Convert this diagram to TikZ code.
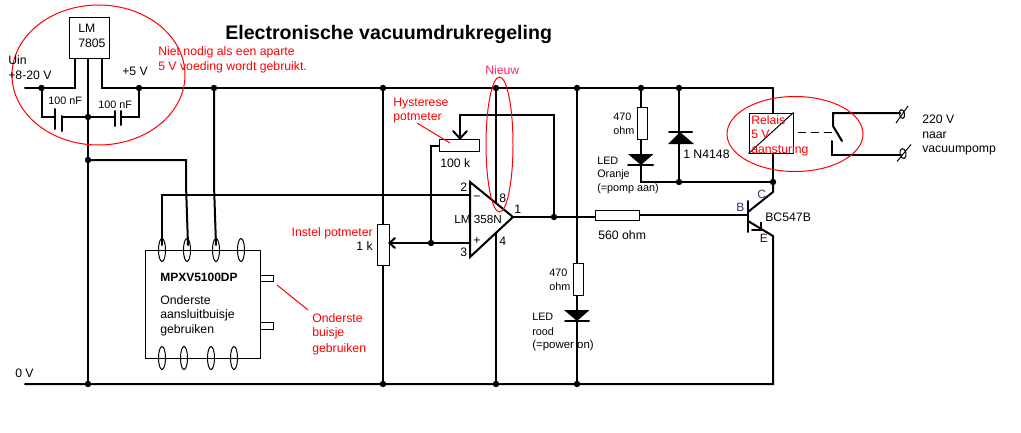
\documentclass[tikz,border=0pt]{standalone}
\usepackage{fontspec}
\usetikzlibrary{shapes.geometric}
\setmainfont{Liberation Sans}
\definecolor{lblred}{RGB}{255,0,0}
\definecolor{newred}{RGB}{255,40,90}
\definecolor{cbcol}{RGB}{40,60,110}
\definecolor{ecol}{RGB}{60,0,50}
\tikzset{
  wire/.style={line width=1.5pt,line cap=round,line join=miter},
  thin line/.style={line width=0.75pt,line join=miter},
  redline/.style={line width=0.75pt,draw=lblred},
  txt/.style={anchor=west,inner sep=0pt,font=\fontsize{9.2}{11}\selectfont,text=black},
  small/.style={txt,font=\fontsize{8.1}{10}\selectfont},
  redtxt/.style={txt,text=lblred},
  dot/.style={circle,fill=black,inner sep=0pt,minimum size=4.8pt},
  part/.style={draw,fill=white,line width=0.75pt,inner sep=0pt},
  pinell/.style={draw,line width=0.75pt,ellipse,inner sep=0pt},
}
\newcommand{\junction}[2]{\coordinate (#1) at (#2); \node[dot] at (#1) {};}
\begin{document}
\begin{tikzpicture}[x=0.75pt,y=-0.75pt]
\useasboundingbox (0,0) rectangle (1021,432);
% coordinates
\coordinate (vinL) at (25,88);
\coordinate (regIn) at (75,88);
\coordinate (regOut) at (102,88);
\coordinate (railR) at (773,88);
\coordinate (gndL) at (25,384);
\coordinate (gndR) at (773,384);
\junction{jIn}{41.5,88}
\junction{j5}{139,88}
\junction{jSens}{214,88}
\junction{jPot}{383,88}
\junction{jOp}{496,88}
\junction{jLedR}{577,88}
\junction{jLedO}{641,88}
\junction{jDio}{679,88}
\junction{jCap}{88,117}
\junction{jGndS}{88,160}
\junction{gA}{88,384}
\junction{gB}{383,384}
\junction{gC}{496,384}
\junction{gD}{577,384}
\junction{jPlus}{431,243}
\junction{jOut}{554,217}
\junction{jCol}{773,182}
\junction{jDioB}{679,182}
% rails
\draw[wire] (vinL)--(regIn)--(75,58);
\draw[wire] (102,58)--(regOut)--(railR);
\draw[wire] (gndL)--(gndR)--(773,236)--(748,221);
\draw[wire] (88,58)--(gA);
% caps
\draw[wire] (jIn)--(41.5,117)--(55,117);
\draw[wire] (62,117)--(jCap)--(115,117);
\draw[wire] (121,117)--(139,117)--(j5);
\draw[wire] (55,109)--(55,129);
\draw[wire] (62,116)--(62,131);
\draw[wire] (115,111)--(115,126);
\draw[wire] (121,111)--(121,125);
% regulator
\node[part,minimum width=30pt,minimum height=30.75pt] (reg) at (89,37.5) {};
% sensor wires
\draw[wire] (jGndS)--(186,160)--(186,185)--(188,245);
\draw[wire] (jSens)--(214,185)--(216,245);
\draw[wire] (162,245)--(162,195)--(470,195);
% sensor
\node[part,fill=none,minimum width=86.25pt,minimum height=81pt] (sens) at (202.5,304) {};
\foreach \n/\x in {a/162,b/187,c/216,d/241}
  \node[pinell,minimum width=5.25pt,minimum height=17.25pt] (top\n) at (\x,250) {};
\foreach \n/\x in {a/162,b/184,c/211,d/234}
  \node[pinell,minimum width=5.25pt,minimum height=17.25pt] (bot\n) at (\x,358) {};
\draw[thin line] (260,275) rectangle (273.5,281.5);
\draw[thin line] (260,322.5) rectangle (273.5,329.5);
% potmeters
\draw[wire] (jPot)--(383,224);
\draw[wire] (383,265)--(gB);
\node[part,minimum width=9pt,minimum height=30.75pt] (pot1) at (383,244.5) {};
\draw[wire] (pot1.east |- jPlus)--(470,243);
\draw[wire] (395,238)--(389.5,243)--(395,248);
\draw[wire] (jPlus)--(431,146)--(439,146);
\node[part,minimum width=30pt,minimum height=9pt] (pot2) at (459,145) {};
\draw[wire] (460,139)--(460,115)--(554,115)--(jOut);
\draw[wire] (453,131)--(460,138.5)--(467,131);
% op amp
\draw[wire] (jOp)--(496,203);
\draw[wire] (496,233)--(gC);
\draw[wire] (513,217)--(595,217);
\draw[wire,line join=miter] (470,182)--(470,257)--(513,217)--cycle;
% led red
\draw[wire] (jLedR)--(577,263);
\draw[wire] (577,295)--(gD);
\node[part,minimum width=7.5pt,minimum height=24pt] (r3) at (578,279) {};
\fill (564,310)--(589.5,310)--(577,321)--cycle;
\draw[wire] (565,321)--(589,321);
% led orange
\draw[wire] (jLedO)--(641,107);
\draw[wire] (641,139)--(641,182)--(jCol);
\node[part,minimum width=7.5pt,minimum height=24pt] (r2) at (642,123) {};
\fill (628,154)--(653.5,154)--(641,165)--cycle;
\draw[wire] (628,165)--(653,165);
% diode
\draw[wire] (jDio)--(jDioB);
\fill (680,132)--(694,144)--(668,144)--cycle;
\draw[wire] (669,132)--(692,132);
% relay
\draw[wire] (railR)--(773,113);
\draw[wire] (773,153)--(jCol);
\node[part,minimum width=33pt,minimum height=30pt] (rel) at (771,133) {};
\draw[thin line] (rel.south west)--(rel.north east);
% base + transistor
\draw[wire] (jCol)--(773,192)--(748,212);
\draw[wire] (639,215)--(748,215);
\node[part,minimum width=33pt,minimum height=7.5pt] (r4) at (617,215) {};
\draw[wire] (748,201)--(748,232);
\draw[wire] (752,229.5)--(761,229.5)--(761,222.5);
% contacts
\draw[wire] (900,113)--(833,113)--(833,126)--(842,141);
\draw[wire] (901,155)--(832,155)--(832,141);
\draw[line width=0.75pt,dash pattern=on 6pt off 3.6pt] (798,132)--(834,132);
\node[pinell,minimum width=3.75pt,minimum height=6.75pt,rotate=10] (t1) at (902,114) {};
\node[pinell,minimum width=4.5pt,minimum height=7.5pt,rotate=10] (t2) at (903,153.5) {};
\draw[thin line] (t1)+(-6,9)--+(6,-8);
\draw[thin line] (t2)+(-6,8)--+(8,-9);
% red
\draw[redline] (98.5,75) ellipse [x radius=86.5,y radius=70];
\draw[redline] (499.5,144.5) ellipse [x radius=13.5,y radius=67.5];
\draw[redline] (795,134) ellipse [x radius=68,y radius=37.5];
\draw[redline] (417,123)--(450,143);
\draw[redline] (277,285)--(308,310);
% title
\node[txt,font=\fontsize{14.7}{16}\bfseries\selectfont] (title) at (225,34) {Electronische vacuumdrukregeling};
% texts
\node[txt] (t01) at (78,28.5) {LM};
\node[txt] (t02) at (78,43) {7805};
\node[txt] (t03) at (8,60) {Uin};
\node[txt] (t04) at (8,75) {+8-20 V};
\node[txt] (t05) at (122,71) {+5 V};
\node[small] (t06) at (48,101) {100 nF};
\node[small] (t07) at (98,105) {100 nF};
\node[redtxt] (t08) at (158,52.5) {Niet nodig als een aparte};
\node[redtxt] (t09) at (158,67.5) {5 V voeding wordt gebruikt.};
\node[txt,text=newred] (t10) at (485,70) {Nieuw};
\node[redtxt] (t11) at (393,104) {Hysterese};
\node[redtxt] (t12) at (393,118) {potmeter};
\node[txt] (t13) at (440,163) {100 k};
\node[redtxt,anchor=east] (t14) at (373,233) {Instel potmeter};
\node[txt,anchor=east] (t15) at (373,246) {1 k};
\node[txt] (t16) at (460,187) {2};
\node[txt] (t17) at (460,252) {3};
\node[txt] (t18) at (473,198) {−};
\node[txt] (t19) at (473,241) {+};
\node[txt,font=\fontsize{8.8}{11}\selectfont] (t20) at (454,219) {LM 358N};
\node[txt] (t21) at (499,198) {8};
\node[txt] (t22) at (514,209) {1};
\node[txt] (t23) at (499,241) {4};
\node[small] (t24) at (613,117) {470};
\node[small] (t25) at (613,131) {ohm};
\node[small] (t26) at (597,161) {LED};
\node[small] (t27) at (597,175) {Oranje};
\node[small] (t28) at (597,189) {(=pomp aan)};
\node[txt] (t29) at (683,154) {1 N4148};
\node[txt] (t30) at (765,217) {BC547B};
\node[txt] (t31) at (598,235) {560 ohm};
\node[txt,font=\fontsize{9}{11}\selectfont,text=cbcol] (t32) at (757,194) {C};
\node[txt,font=\fontsize{9}{11}\selectfont,text=cbcol] (t33) at (736,207) {B};
\node[txt,font=\fontsize{9}{11}\selectfont,text=ecol] (t34) at (759.5,238) {E};
\node[small] (t35) at (549,273) {470};
\node[small] (t36) at (549,287) {ohm};
\node[small] (t37) at (532,317) {LED};
\node[small] (t38) at (532,332) {rood};
\node[small,font=\fontsize{8.6}{10}\selectfont] (t39) at (532,346) {(=power on)};
\node[redtxt] (t40) at (751,120) {Relais};
\node[redtxt] (t41) at (751,134.5) {5 V};
\node[redtxt] (t42) at (751,150) {aansturing};
\node[txt] (t43) at (922,119.5) {220 V};
\node[txt] (t44) at (922,135) {naar};
\node[txt] (t45) at (922,150) {vacuumpomp};
\node[txt] (t46) at (15,373) {0 V};
\node[txt,font=\fontsize{9}{11}\bfseries\selectfont] (t47) at (160,277) {MPXV5100DP};
\node[txt] (t48) at (160,300) {Onderste};
\node[txt] (t49) at (160,315) {aansluitbuisje};
\node[txt] (t50) at (160,330) {gebruiken};
\node[redtxt] (t51) at (312,318) {Onderste};
\node[redtxt] (t52) at (312,333) {buisje};
\node[redtxt] (t53) at (312,349) {gebruiken};
\end{tikzpicture}
\end{document}
